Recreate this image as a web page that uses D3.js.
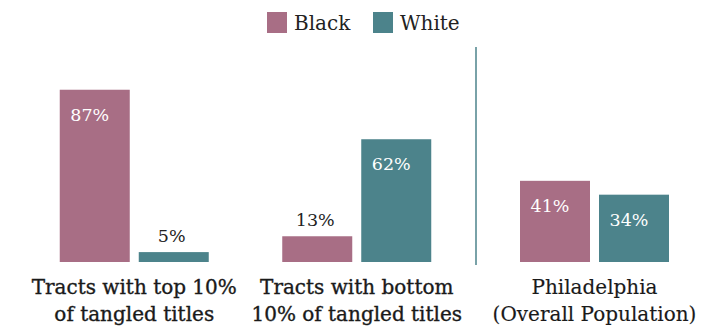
<!DOCTYPE html>
<html><head><meta charset="utf-8">
<script src="https://cdn.jsdelivr.net/npm/d3@7"></script>
<style>body{margin:0;background:#fff}svg{display:block}</style>
</head><body>
<script>
const categories = ["Tracts with top 10%|of tangled titles", "Tracts with bottom|10% of tangled titles", "Philadelphia|(Overall Population)"];
const series = ["Black", "White"];
const blackValues = [87, 13, 41];
const whiteValues = [5, 62, 34];
const colors = {Black: "#a86e85", White: "#4c838b"};

const W = 720, H = 329;
const svg = d3.select("body").append("svg").attr("width", W).attr("height", H);
const font = "'DejaVu Serif', serif";

const y = d3.scaleLinear().domain([0, 100]).range([262, 64]);
const xLeft = d3.scaleBand().domain(categories.slice(0, 2)).range([23, 468]);
const xRight = d3.scaleBand().domain(categories.slice(2)).range([476, 713]);
const xCenter = c => (xLeft.domain().includes(c) ? xLeft(c) + xLeft.bandwidth() / 2 : xRight(c) + xRight.bandwidth() / 2);
const x1 = d3.scaleBand().domain(series).range([-74.5, 74.5]).paddingInner(9 / 79);

const data = [];
categories.forEach((c, i) => {
  data.push({c, s: "Black", v: blackValues[i]});
  data.push({c, s: "White", v: whiteValues[i]});
});

svg.selectAll("rect.bar").data(data).join("rect").attr("class", "bar")
  .attr("x", d => xCenter(d.c) + x1(d.s))
  .attr("width", x1.bandwidth())
  .attr("y", d => y(d.v))
  .attr("height", d => y(0) - y(d.v))
  .attr("fill", d => colors[d.s]);

svg.selectAll("text.val").data(data).join("text").attr("class", "val")
  .attr("x", d => xCenter(d.c) + x1(d.s) + x1.bandwidth() / 2 - (d.v > 20 ? 5 : 2))
  .attr("y", d => d.v > 20 ? y(d.v) + 31 : y(d.v) - 10)
  .attr("text-anchor", "middle")
  .attr("font-family", font).attr("font-size", 17.5)
  .attr("fill", d => d.v > 20 ? "#fff" : "#222")
  .text(d => d.v + "%");

// separator
svg.append("line").attr("x1", 476).attr("x2", 476).attr("y1", 47).attr("y2", 265)
  .attr("stroke", "#4c838b").attr("stroke-width", 1.5);

// category labels
categories.forEach((c, i) => {
  const lines = c.split("|");
  const t = svg.append("text").attr("text-anchor", "middle")
    .attr("font-family", font).attr("font-size", 20)
    .attr("fill", "#1a1a1a").attr("stroke", "#1a1a1a").attr("stroke-width", i < 2 ? 0.35 : 0.15);
  lines.forEach((l, j) => t.append("tspan").attr("x", xCenter(c)).attr("y", 294 + j * 27).text(l));
});

// legend
const legend = svg.append("g");
const lx = [267, 373];
series.forEach((s, i) => {
  legend.append("rect").attr("x", lx[i]).attr("y", 12).attr("width", 20).attr("height", 21).attr("fill", colors[s]);
  legend.append("text").attr("x", lx[i] + 27).attr("y", 30).attr("font-family", font)
    .attr("font-size", 20).attr("fill", "#222").text(s);
});
</script>
</body></html>
